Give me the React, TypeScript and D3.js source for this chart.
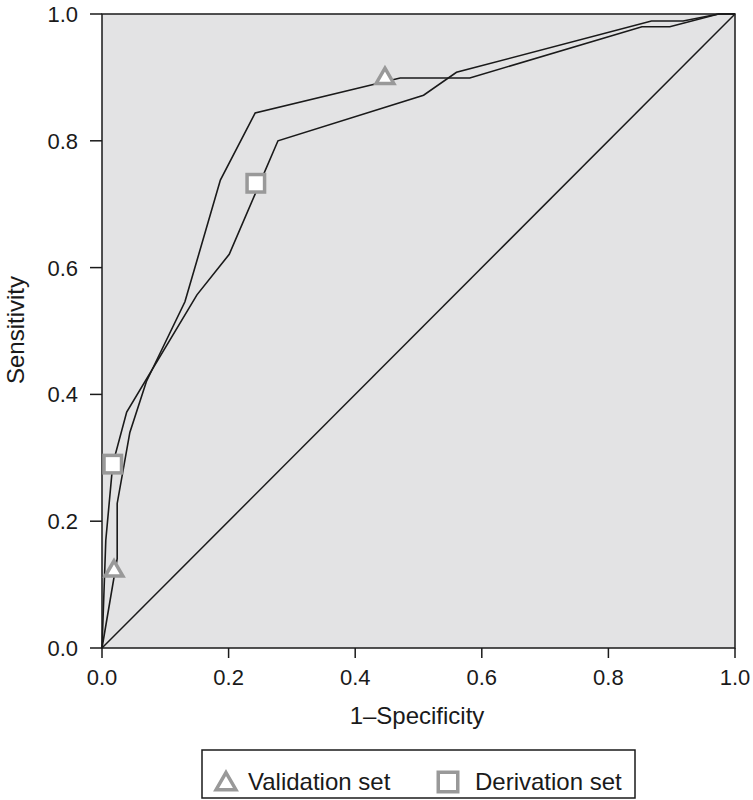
import React from "react";
import * as d3 from "d3";

const validationX = [0, 0.024, 0.024, 0.044, 0.07, 0.131, 0.187, 0.242, 0.471, 0.581, 0.853, 0.897, 0.974, 1];
const validationY = [0, 0.141, 0.228, 0.34, 0.42, 0.546, 0.738, 0.844, 0.899, 0.899, 0.98, 0.98, 1.0, 1];

const derivationX = [0, 0.006, 0.017, 0.039, 0.15, 0.201, 0.278, 0.508, 0.56, 0.868, 0.918, 0.974, 1];
const derivationY = [0, 0.17, 0.29, 0.372, 0.557, 0.621, 0.8, 0.872, 0.908, 0.989, 0.989, 1.0, 1];

const validationMarkerX = [0.019, 0.447];
const validationMarkerY = [0.123, 0.9];
const derivationMarkerX = [0.017, 0.243];
const derivationMarkerY = [0.29, 0.733];

const tickValues = [0, 0.2, 0.4, 0.6, 0.8, 1.0];
const xTitle = "1–Specificity";
const yTitle = "Sensitivity";
const legendLabels = ["Validation set", "Derivation set"];

const W = 753;
const H = 800;
const left = 102, right = 735, top = 14, bottom = 648;
const FONT = "'Liberation Sans', Arial, sans-serif";
const MARKER = "#999999";

export default function App() {
  const x = d3.scaleLinear().domain([0, 1]).range([left, right]);
  const y = d3.scaleLinear().domain([0, 1]).range([bottom, top]);
  const line = d3.line<[number, number]>().x((d) => x(d[0])).y((d) => y(d[1]));

  const vPts = validationX.map((v, i) => [v, validationY[i]] as [number, number]);
  const dPts = derivationX.map((v, i) => [v, derivationY[i]] as [number, number]);

  const triSmall = d3.symbol(d3.symbolTriangle, 135)()!;
  const triLegend = d3.symbol(d3.symbolTriangle, 170)()!;
  const sqSmall = 17.5;
  const sqLegend = 19.5;

  return (
    <div style={{ position: "absolute", left: 0, top: 0 }}>
      <svg width={W} height={H} style={{ display: "block", background: "#fff" }}>
        <rect x={left} y={top} width={right - left} height={bottom - top} fill="#e3e3e4" />
        {/* diagonal */}
        <path d={line([[0, 0], [1, 1]])!} fill="none" stroke="#1a1a1a" strokeWidth={1.5} />
        <path d={line(dPts)!} fill="none" stroke="#1a1a1a" strokeWidth={1.6} strokeLinejoin="miter" />
        <path d={line(vPts)!} fill="none" stroke="#1a1a1a" strokeWidth={1.6} strokeLinejoin="miter" />
        <rect x={left} y={top} width={right - left} height={bottom - top} fill="none" stroke="#1a1a1a" strokeWidth={1.5} />

        {/* y axis ticks */}
        {tickValues.map((t) => (
          <g key={"y" + t}>
            <line x1={90} x2={left} y1={y(t)} y2={y(t)} stroke="#1a1a1a" strokeWidth={1.5} />
            <text x={78} y={y(t) + 8} textAnchor="end" fontFamily={FONT} fontSize={22} fill="#1a1a1a">
              {t.toFixed(1)}
            </text>
          </g>
        ))}
        {/* x axis ticks */}
        {tickValues.map((t) => (
          <g key={"x" + t}>
            <line x1={x(t)} x2={x(t)} y1={bottom} y2={bottom + 10} stroke="#1a1a1a" strokeWidth={1.5} />
            <text x={x(t)} y={685} textAnchor="middle" fontFamily={FONT} fontSize={22} fill="#1a1a1a">
              {t.toFixed(1)}
            </text>
          </g>
        ))}
        <text x={417} y={724} textAnchor="middle" fontFamily={FONT} fontSize={24} fill="#1a1a1a">
          {xTitle}
        </text>
        <text
          transform={`translate(24,330) rotate(-90)`}
          textAnchor="middle"
          fontFamily={FONT}
          fontSize={24}
          fill="#1a1a1a"
        >
          {yTitle}
        </text>

        {/* markers */}
        {validationMarkerX.map((v, i) => (
          <path
            key={"vm" + i}
            d={triSmall}
            transform={`translate(${x(v)},${y(validationMarkerY[i]) + 1})`}
            fill="#fff"
            stroke={MARKER}
            strokeWidth={3.5}
          />
        ))}
        {derivationMarkerX.map((v, i) => (
          <rect
            key={"dm" + i}
            x={x(v) - sqSmall / 2}
            y={y(derivationMarkerY[i]) - sqSmall / 2}
            width={sqSmall}
            height={sqSmall}
            fill="#fff"
            stroke={MARKER}
            strokeWidth={3.5}
          />
        ))}

        {/* legend */}
        <rect x={202} y={750} width={433} height={48} fill="#fff" stroke="#1a1a1a" strokeWidth={1.5} />
        <path d={triLegend} transform="translate(226,784)" fill="#fff" stroke={MARKER} strokeWidth={3.5} />
        <text x={248} y={790} fontFamily={FONT} fontSize={24} fill="#1a1a1a">
          {legendLabels[0]}
        </text>
        <rect x={448 - sqLegend / 2} y={782 - sqLegend / 2} width={sqLegend} height={sqLegend} fill="#fff" stroke={MARKER} strokeWidth={3.5} />
        <text x={475} y={790} fontFamily={FONT} fontSize={24} fill="#1a1a1a">
          {legendLabels[1]}
        </text>
      </svg>
    </div>
  );
}
